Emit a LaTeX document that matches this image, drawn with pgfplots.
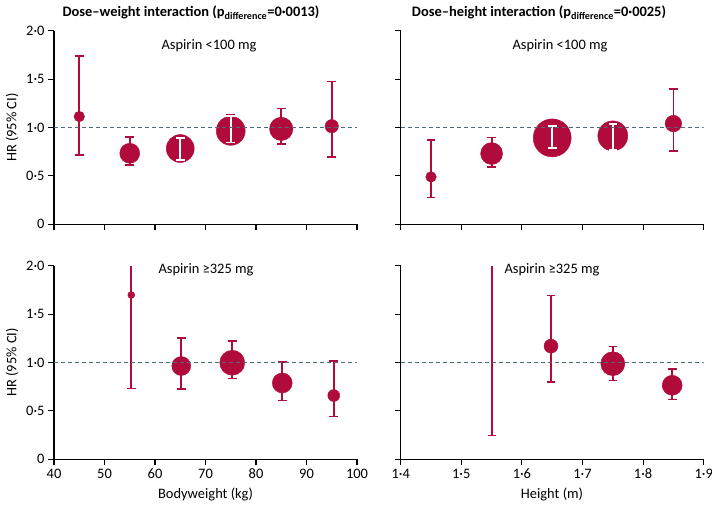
\documentclass[border=0pt]{standalone}
\usepackage{fontspec}
\setmainfont{Carlito}
\usepackage{pgfplots}
\pgfplotsset{compat=1.18}
\definecolor{lr}{RGB}{176,11,59}
\definecolor{dl}{RGB}{78,108,120}
\newcommand\fs{\fontsize{14.5}{17}\selectfont}
\pgfplotsset{
  panel/.style={
    scale only axis, width=303bp, height=193.5bp,
    axis x line*=bottom, axis y line*=left,
    axis line style={-, line width=1.1bp, black},
    every tick/.style={line width=1.1bp, black},
    major tick length=6bp, tick align=outside,
    ymin=0, ymax=2, ytick={0,0.5,1,1.5,2},
    yticklabels={0,0·5,1·0,1·5,2·0},
    tick label style={font=\fs},
    enlargelimits=false, anchor=south west,
    clip marker paths=true, unbounded coords=jump,
  },
  ci/.style={#1, line width=1.8bp, mark=-, mark size=4.3bp,
    mark options={solid, #1, line width=1.6bp}},
  dots/.style={scatter, only marks, mark=*, point meta=0,
    point meta min=0, point meta max=1,
    scatter/use mapped color={draw=lr, fill=lr},
    visualization depends on={\thisrow{r}\as\rr},
    scatter/@pre marker code/.append style={/tikz/mark size=\rr bp}},
  refline/.style={dl, dash pattern=on 4bp off 3bp, line width=1.5bp},
}
\begin{document}
\begin{tikzpicture}[x=1bp,y=1bp]
\useasboundingbox (0,0) rectangle (712,509);
% ---------- top left
\begin{axis}[panel, at={(54bp,284.7bp)}, xmin=40, xmax=100, xtick={40,50,...,100}, xticklabels={}]
\addplot[ci=lr] table {
x y
45 0.714
45 1.740
nan nan
55 0.614
55 0.900
nan nan
65 0.665
65 0.890
nan nan
75 0.845
75 1.134
nan nan
85 0.828
85 1.197
nan nan
95 0.697
95 1.476
};
\addplot[dots] table[x=x,y=y] {
x y r
45 1.114 5.3
55 0.734 10
65 0.783 14
75 0.966 14.5
85 0.986 11.7
95 1.014 6.7
};
\addplot[ci=white] table {
x y
65 0.665
65 0.890
nan nan
75 0.845
75 1.120
};
\addplot[refline] coordinates {(40,1) (100,1)};
\end{axis}
% ---------- top right
\begin{axis}[panel, at={(400.7bp,284.7bp)}, xmin=1.4, xmax=1.9, xtick={1.4,1.5,...,1.9}, xticklabels={}, yticklabels={}]
\addplot[ci=lr] table {
x y
1.45 0.276
1.45 0.872
nan nan
1.55 0.593
1.55 0.897
nan nan
1.65 0.790
1.65 1.017
nan nan
1.75 0.766
1.75 1.034
nan nan
1.85 0.755
1.85 1.400
};
\addplot[dots] table[x=x,y=y] {
x y r
1.45 0.490 5.3
1.55 0.731 11
1.65 0.893 19
1.75 0.914 15
1.85 1.041 8.3
};
\addplot[ci=white] table {
x y
1.65 0.790
1.65 1.017
nan nan
1.75 0.766
1.75 1.034
};
\addplot[refline] coordinates {(1.4,1) (1.9,1)};
\end{axis}
% ---------- bottom left
\begin{axis}[panel, at={(54bp,49.7bp)}, xmin=40, xmax=100, xtick={40,50,...,100}, xticklabels={40,50,60,70,80,90,100}]
\addplot[ci=lr, mark indices={1}] coordinates {(55.3,0.731) (55.3,2.0)};
\addplot[ci=lr] table {
x y
65.2 0.724
65.2 1.256
nan nan
75.3 0.834
75.3 1.221
nan nan
85.2 0.607
85.2 1.005
nan nan
95.4 0.443
95.4 1.015
};
\addplot[dots] table[x=x,y=y] {
x y r
55.3 1.698 3.5
65.2 0.964 9.5
75.3 0.998 12.5
85.2 0.789 10
95.4 0.659 6
};
\addplot[refline] coordinates {(40,1) (100,1)};
\end{axis}
% ---------- bottom right
\begin{axis}[panel, at={(400.7bp,49.7bp)}, xmin=1.4, xmax=1.9, xtick={1.4,1.5,...,1.9}, xticklabels={1·4,1·5,1·6,1·7,1·8,1·9}, yticklabels={}]
\addplot[ci=lr, mark indices={1}] coordinates {(1.5505,0.244) (1.5505,2.0)};
\addplot[ci=lr] table {
x y
1.648 0.799
1.648 1.691
nan nan
1.75 0.816
1.75 1.166
nan nan
1.848 0.617
1.848 0.936
};
\addplot[dots] table[x=x,y=y] {
x y r
1.648 1.170 7
1.75 0.988 12
1.848 0.765 10
};
\addplot[refline] coordinates {(1.4,1) (1.9,1)};
\end{axis}
% ---------- texts
\node[font=\fs\bfseries, anchor=base] at (191,492) {Dose–weight interaction (p\textsubscript{difference}=0·0013)};
\node[font=\fs\bfseries, anchor=base] at (539,492) {Dose–height interaction (p\textsubscript{difference}=0·0025)};
\node[font=\fs, anchor=base] at (209,459) {Aspirin <100 mg};
\node[font=\fs, anchor=base] at (560,459) {Aspirin <100 mg};
\node[font=\fs, anchor=base] at (206,235) {Aspirin ≥325 mg};
\node[font=\fs, anchor=base] at (552,235) {Aspirin ≥325 mg};
\node[font=\fs, anchor=base] at (205.5,10) {Bodyweight (kg)};
\node[font=\fs, anchor=base] at (552,10) {Height (m)};
\node[font=\fs, rotate=90] at (12,381.3) {HR (95\% CI)};
\node[font=\fs, rotate=90] at (12,146.7) {HR (95\% CI)};
\end{tikzpicture}
\end{document}
